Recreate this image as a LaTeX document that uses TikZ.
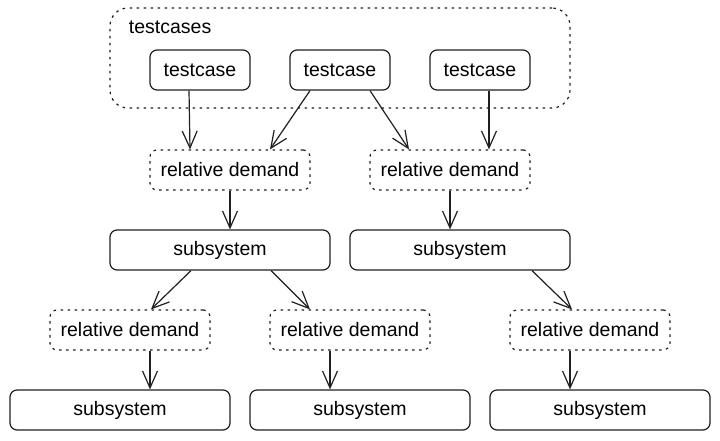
\documentclass[tikz,border=0pt]{standalone}
\usepackage{fontspec}
\setmainfont{Liberation Sans}
\usetikzlibrary{arrows.meta,positioning}

\begin{document}
\begin{tikzpicture}[
  x=1pt, y=-1pt,
  ink/.style={draw=black!88, line width=1.2pt},
  box/.style={ink, rounded corners=7pt, minimum width=#1, minimum height=40pt, inner sep=0pt, font=\fontsize{19.5}{23}\selectfont},
  demand/.style={box=160pt, dash pattern=on 2.5pt off 4.5pt},
  group/.style={ink, rounded corners=18pt, dash pattern=on 2.5pt off 4.5pt, minimum width=460pt, minimum height=100pt},
  arrow/.style={ink, -{Straight Barb[length=17pt,width=15pt]}},
]
\useasboundingbox (0,0) rectangle (720,440);

% testcases group
\node[group] (grp) at (340,58) {};
\node[anchor=west, font=\fontsize{19.5}{23}\selectfont] (grplbl) at ([xshift=16pt,yshift=-20pt]grp.north west) {testcases};

\node[box=100pt] (tc1) at (200,70) {testcase};
\node[box=100pt] (tc2) at (340,70) {testcase};
\node[box=100pt] (tc3) at (480,70) {testcase};

% first level
\node[demand] (rd1) at (230,170) {relative demand};
\node[demand] (rd2) at (450,170) {relative demand};
\node[box=220pt] (ss1) at (220,250) {subsystem};
\node[box=220pt] (ss2) at (460,250) {subsystem};

% second level
\node[demand] (rd3) at (130,330) {relative demand};
\node[demand] (rd4) at (350,330) {relative demand};
\node[demand] (rd5) at (590,330) {relative demand};
\node[box=220pt] (ss3) at (120,410) {subsystem};
\node[box=220pt] (ss4) at (360,410) {subsystem};
\node[box=220pt] (ss5) at (600,410) {subsystem};

\draw[arrow] ([xshift=-11pt]tc1.south) -- ([xshift=-40pt]rd1.north);
\draw[arrow] ([xshift=-30pt]tc2.south) -- ([xshift=40pt]rd1.north);
\draw[arrow] ([xshift=30pt]tc2.south) -- ([xshift=-41pt]rd2.north);
\draw[arrow] ([xshift=9pt]tc3.south) -- ([xshift=39pt]rd2.north);

\draw[arrow] (rd1.south) -- ([xshift=10pt]ss1.north);
\draw[arrow] (rd2.south) -- ([xshift=-10pt]ss2.north);

\draw[arrow] ([xshift=-29pt]ss1.south) -- ([xshift=21pt]rd3.north);
\draw[arrow] ([xshift=51pt]ss1.south) -- ([xshift=-40pt]rd4.north);
\draw[arrow] ([xshift=72pt]ss2.south) -- ([xshift=-18pt]rd5.north);

\draw[arrow] ([xshift=20pt]rd3.south) -- ([xshift=30pt]ss3.north);
\draw[arrow] ([xshift=-20pt]rd4.south) -- ([xshift=-30pt]ss4.north);
\draw[arrow] ([xshift=-20pt]rd5.south) -- ([xshift=-30pt]ss5.north);
\end{tikzpicture}
\end{document}
